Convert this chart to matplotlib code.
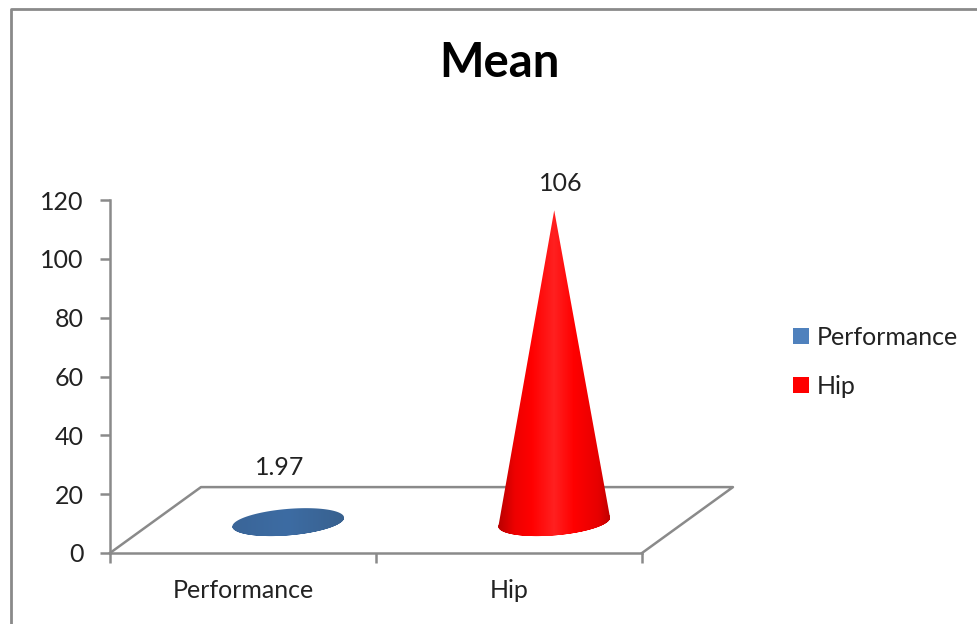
import numpy as np
import matplotlib
matplotlib.use('Agg')
import matplotlib.pyplot as plt
from matplotlib.colors import LinearSegmentedColormap
from matplotlib.lines import Line2D
from matplotlib.patches import Patch, PathPatch
from matplotlib.path import Path

plt.rcParams['font.family'] = ['Lato', 'DejaVu Sans']

categories = ['Performance', 'Hip']
values = [1.97, 106]
value_labels = ['1.97', '106']
y_ticks = [0, 20, 40, 60, 80, 100, 120]

W, H = 977, 624
GREY = '#8a8a8a'
TEXT = '#222222'

fig = plt.figure(figsize=(W / 100, H / 100), dpi=100)
ax = fig.add_axes([110 / W, 1 - 553 / H, (642 - 110) / W, (553 - 200) / H])

# 3d look: how far the floor goes back, in data units
depth_x, depth_y = 0.342, 22.4
base_x, base_y = 0.17, 10.5
radius_x, radius_y, tilt = 0.21, 4.5, 1.5


def cone_path(cx, height):
    t = np.linspace(0, 2 * np.pi, 120)
    ex = cx + radius_x * np.cos(t)
    ey = base_y + radius_y * np.sin(t) + tilt * np.cos(t)
    disk = list(zip(ex, ey))
    # lower half of the base plus the apex
    low = np.linspace(np.pi, 2 * np.pi, 60)
    lx = cx + radius_x * np.cos(low)
    ly = base_y + radius_y * np.sin(low) + tilt * np.cos(low)
    side = list(zip(lx, ly)) + [(cx, base_y + height)]
    verts = disk + side + [side[0]]
    codes = [Path.MOVETO] + [Path.LINETO] * (len(disk) - 1)
    codes += [Path.MOVETO] + [Path.LINETO] * (len(side) - 1) + [Path.CLOSEPOLY]
    return Path(verts, codes)


# floor
ax.plot([0, depth_x, 2 + depth_x, 2],
        [0, depth_y, depth_y, 0], color=GREY, lw=1.8, clip_on=False, zorder=1)

red_cmap = LinearSegmentedColormap.from_list('cone_red', [
    (0.0, '#b80000'), (0.15, '#ee0000'), (0.3, '#ff0000'), (0.5, '#ff2020'),
    (0.68, '#ff0000'), (0.9, '#e60000'), (1.0, '#c00000')])
blue_cmap = LinearSegmentedColormap.from_list('cone_blue', [
    (0.0, '#3a6598'), (0.5, '#3d6ca3'), (1.0, '#38618f')])
cmaps = [blue_cmap, red_cmap]
label_offsets = [(-6, 35), (5, 19)]

for i, (val, label) in enumerate(zip(values, value_labels)):
    cx = i + 0.5 + base_x
    path = cone_path(cx, val)
    im = ax.imshow(np.linspace(0, 1, 256).reshape(1, -1), cmap=cmaps[i], aspect='auto',
                   extent=[cx - radius_x, cx + radius_x, 0, base_y + max(val, 2 * radius_y)], zorder=3)
    patch = PathPatch(path, transform=ax.transData, fc='none', ec='none')
    ax.add_patch(patch)
    im.set_clip_path(patch)
    ax.annotate(label, xy=(cx, base_y + val), xytext=label_offsets[i], textcoords='offset points',
                ha='center', va='center', fontsize=18, color=TEXT)

ax.set_xlim(0, 2)
ax.set_ylim(0, 120)
ax.set_yticks(y_ticks)
ax.set_xticks([0, 1, 2])
ax.set_xticklabels([])
ax.set_xticks([0.5, 1.5], categories, minor=True)
ax.tick_params(axis='both', which='major', color=GREY, width=1.8, length=7, labelsize=18, labelcolor=TEXT)
ax.tick_params(axis='x', which='minor', length=0, labelsize=18, labelcolor=TEXT, pad=19)
ax.tick_params(axis='y', pad=12)
for s in ['top', 'right']:
    ax.spines[s].set_visible(False)
for s in ['left', 'bottom']:
    ax.spines[s].set_color(GREY)
    ax.spines[s].set_linewidth(1.8)

fig.text(499 / W, 1 - 63 / H, 'Mean', ha='center', va='center', fontsize=34, fontweight='bold', color='black')

handles = [Patch(fc='#4f81bd', ec='none'), Patch(fc='#ff0000', ec='none')]
fig.legend(handles, categories, loc='center left', bbox_to_anchor=(793 / W, 1 - 362 / H), frameon=False,
           fontsize=18, labelcolor=TEXT, handlelength=0.64, handleheight=0.64, handletextpad=0.3,
           labelspacing=1.04, borderpad=0, borderaxespad=0)

# outer chart border, cut off at right and bottom
fig.add_artist(Line2D([10.5 / W, 10.5 / W, 1], [0, 1 - 9 / H, 1 - 9 / H], color=GREY, lw=2))

fig.savefig('out.png', dpi=100, facecolor='white')
